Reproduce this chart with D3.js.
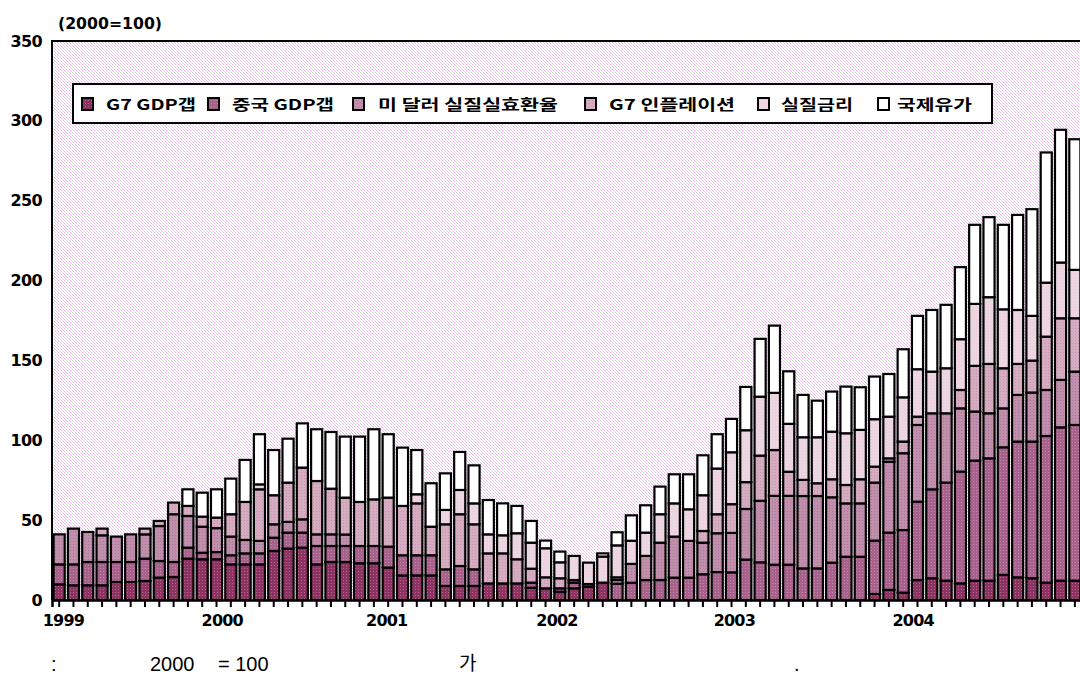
<!DOCTYPE html>
<meta charset="utf-8">
<script src="https://d3js.org/d3.v7.min.js"></script>
<style>
  body { margin: 0; background: #fff; }
</style>
<div id="chart"></div>
<script>
// ---- data (2000 = 100), monthly, Jan 1999 .. Dec 2004 ----
var years = ["1999", "2000", "2001", "2002", "2003", "2004"];
var seriesNames = ["G7 GDP갭", "중국 GDP갭", "미 달러 실질실효환율", "G7 인플레이션", "실질금리", "국제유가"];
var yTicks = [0, 50, 100, 150, 200, 250, 300, 350];

var g7Gap = [9.8, 9.2, 9.2, 9.2, 11.3, 11.3, 11.9, 14, 14.4, 25.9, 25.5, 25.5,
  22.3, 22.3, 22.3, 30.7, 32.2, 32.8, 22.3, 23.8, 23.8, 23, 23, 20.3,
  15.4, 15.4, 15.4, 8.8, 8.8, 8.8, 10.4, 10.4, 10.4, 7.7, 7.3, 5.2,
  7.3, 8.4, 10.9, 0, 0, 0, 0, 0, 0, 0, 0, 0,
  0, 0, 0, 0, 0, 0, 0, 0, 0, 3.8, 6.3, 4.6,
  12.5, 13.6, 12.1, 10.4, 12.1, 12.1, 15.7, 14.2, 13.6, 10.9, 12.1, 12.1];
var chinaGap = [12.5, 13.1, 14.6, 14.6, 12.5, 12.5, 14, 10.4, 9.4, 6.9, 4.1, 4.5,
  5.7, 6.9, 6.9, 8.3, 10, 9.4, 11.5, 10, 10, 10.8, 10.8, 13.1,
  12.6, 12.6, 12.6, 10.4, 12.5, 10.4, 0, 0, 0, 3.2, 0, 2.1,
  3.6, 1.6, 0, 10.2, 10.8, 12.5, 12.5, 14, 14, 16.1, 17.5, 17.3,
  25.3, 23.6, 22.1, 22.1, 19.8, 19.8, 23.4, 27.1, 27.1, 33.4, 35.9, 39.2,
  49.1, 55.7, 61.4, 70, 75.2, 76.6, 79.9, 85, 85.6, 91.8, 96, 97.5];
var usdReer = [18.8, 22.4, 18.8, 16.7, 15.9, 17.3, 15.2, 21.9, 29.9, 19.8, 16.3, 15,
  11.7, 8.4, 7.8, 8.4, 6.7, 8.3, 7.3, 7.3, 7.2, 0, 0, 0,
  0, 0, 0, 0, 0, 0, 0, 0, 0, 0, 0, 0,
  0, 0, 0, 2.3, 11.8, 15.1, 23.4, 25.7, 23, 19.8, 24.3, 24.7,
  31.7, 38.5, 43.1, 43.1, 45.3, 45.3, 40.9, 33.4, 33.4, 36.3, 44.4, 48.1,
  48, 47.6, 43.4, 39.6, 30.7, 28.2, 24.4, 29.2, 30.7, 28.8, 29.7, 33.4];
var g7Infl = [0, 0, 0, 4.2, 0, 0, 3.6, 3.2, 7.3, 6.3, 6.3, 6.6,
  14, 23.8, 32.3, 18.2, 24.6, 32.4, 33.4, 28.6, 23.1, 27.6, 29.2, 30.7,
  30.9, 32.5, 17.9, 28.2, 32.4, 28.2, 18.8, 18.8, 15.1, 8.7, 6.9, 6.3,
  1.6, 0, 0, 1.7, 0, 0, 0, 0, 0, 7.3, 11.9, 18,
  16.8, 28.3, 28.7, 15.1, 10.1, 8, 11.3, 11.5, 15.1, 10, 2.1, 7.3,
  5.2, 0, 0, 11.5, 28.6, 30.9, 25.1, 19.4, 20, 33.4, 38.6, 33.4];
var realRate = [0, 0, 0, 0, 0, 0, 0, 0, 0, 0, 0, 0,
  0, 0, 3.1, 0, 0, 0, 0, 0, 0, 0, 0, 0,
  0, 5.7, 0, 9, 15.2, 13.1, 11.9, 11.3, 16.3, 16.3, 18.2, 10,
  15.1, 13.4, 16.3, 20, 14.5, 14.6, 17.8, 20.8, 19.8, 22.4, 28.6, 32.5,
  32.5, 36.9, 35.8, 30, 26.7, 28.8, 29.8, 32.4, 30.9, 29.7, 26.1, 27.7,
  29.7, 26.1, 28.2, 31.8, 38.8, 41.8, 36.9, 33.8, 28, 33.8, 34.9, 30.3];
var oilPrice = [0, 0, 0, 0, 0, 0, 0, 0, 0, 10.4, 15, 17.7,
  22.3, 26.3, 31.4, 28.3, 27.5, 27.7, 32.4, 35.5, 38.2, 40.9, 43.9, 39.7,
  36.5, 27.7, 27.2, 22.9, 23.8, 23.8, 21.5, 20, 17.1, 13.6, 4.8, 6.7,
  0, 0, 2, 8.2, 15.9, 17.1, 17.3, 18.2, 21.9, 25, 21.5, 20.9,
  27.1, 36.2, 42.1, 32.9, 26.5, 22.9, 25.1, 29.2, 26.7, 26.7, 26.7, 30.1,
  33.4, 38.6, 39.7, 45.1, 49.5, 50.1, 52.9, 59.5, 66.8, 81.5, 83.1, 81.8];

// month index (bar position) under which each year label sits
var yearLabelPos = [0.3, 11.4, 22.9, 34.8, 47.2, 59.7];

var series = [g7Gap, chinaGap, usdReer, g7Infl, realRate, oilPrice];
var baseColors = ["#8a3462", "#a6628a", "#c28fab", "#d6adc0", "#ead7e0", "#ffffff"];
var dotColors  = ["#c45a8e", "#c986ad", "#a774a8", "#c593b5", "#f6c2e6", "#ffffff"];

var rows = d3.range(g7Gap.length).map(function (i) {
  var r = { i: i };
  series.forEach(function (s, k) { r["s" + k] = s[i]; });
  return r;
});
var keys = series.map(function (s, k) { return "s" + k; });

// ---- layout ----
var W = 1080, H = 679;
var plot = { left: 52, top: 41, right: 1082, bottom: 600 };

var svg = d3.select("#chart").append("svg")
  .attr("width", W).attr("height", H)
  .style("font-family", "'DejaVu Sans', sans-serif");

var defs = svg.append("defs");
// dotted pink/grey paper behind the bars
var bg = defs.append("pattern").attr("id", "bgpat")
  .attr("width", 3).attr("height", 3).attr("patternUnits", "userSpaceOnUse");
bg.append("rect").attr("width", 3).attr("height", 3).attr("fill", "#ffffff");
bg.append("rect").attr("x", 0).attr("y", 0).attr("width", 1).attr("height", 1).attr("fill", "#d2d2d2");
bg.append("rect").attr("x", 1).attr("y", 1).attr("width", 1).attr("height", 1).attr("fill", "#f3b2f0");
bg.append("rect").attr("x", 2).attr("y", 2).attr("width", 1).attr("height", 1).attr("fill", "#f8cff6");

baseColors.forEach(function (c, k) {
  var p = defs.append("pattern").attr("id", "pat" + k)
    .attr("width", 3).attr("height", 3).attr("patternUnits", "userSpaceOnUse");
  p.append("rect").attr("width", 3).attr("height", 3).attr("fill", c);
  if (k < 5) {
    p.append("rect").attr("x", 1).attr("y", 1).attr("width", 1).attr("height", 1).attr("fill", dotColors[k]);
  }
});

var x = d3.scaleBand()
  .domain(d3.range(rows.length))
  .range([plot.left, plot.right])
  .padding(0);

var xm = d3.scaleLinear()
  .domain([0, rows.length])
  .range([plot.left, plot.right]);

var y = d3.scaleLinear()
  .domain([0, 350])
  .range([plot.bottom, plot.top]);

// plot background
svg.append("rect")
  .attr("x", plot.left).attr("y", plot.top)
  .attr("width", plot.right - plot.left).attr("height", plot.bottom - plot.top)
  .attr("fill", "url(#bgpat)");

// stacked bars
var stacked = d3.stack().keys(keys)(rows);

var layer = svg.append("g").selectAll("g")
  .data(stacked)
  .enter().append("g")
  .attr("fill", function (d, k) { return "url(#pat" + k + ")"; });

layer.selectAll("rect")
  .data(function (d) { return d.filter(function (v) { return v[1] - v[0] > 0.01; }); })
  .enter().append("rect")
  .attr("x", function (d) { return x(d.data.i) + 1.6; })
  .attr("width", x.bandwidth() - 3.2)
  .attr("y", function (d) { return y(d[1]); })
  .attr("height", function (d) { return y(d[0]) - y(d[1]); })
  .attr("stroke", "#000")
  .attr("stroke-width", 2.2);

// frame (left + top)
svg.append("path")
  .attr("d", "M" + plot.left + "," + plot.bottom + "V" + plot.top + "H" + (plot.right + 10))
  .attr("fill", "none").attr("stroke", "#000").attr("stroke-width", 2);

// x axis: month ticks
var xAxis = svg.append("g")
  .attr("transform", "translate(0," + plot.bottom + ")")
  .call(d3.axisBottom(x).tickSize(7).tickFormat(""));
xAxis.select(".domain").attr("stroke-width", 2.5);
xAxis.selectAll(".tick line").attr("stroke-width", 2);

// year labels
svg.append("g").selectAll("text")
  .data(years)
  .enter().append("text")
  .attr("x", function (d, i) { return xm(yearLabelPos[i] + 0.5); })
  .attr("y", 626)
  .attr("text-anchor", "middle")
  .attr("fill", "#000")
  .style("font-size", "16px").style("font-weight", "bold")
  .attr("letter-spacing", "-0.8")
  .text(function (d) { return d; });

// y axis
var yAxis = svg.append("g")
  .attr("transform", "translate(" + plot.left + ",0)")
  .call(d3.axisLeft(y).tickValues(yTicks).tickSize(0).tickPadding(10));
yAxis.select(".domain").remove();
yAxis.selectAll("text")
  .attr("fill", "#000")
  .style("font-family", "'DejaVu Sans', sans-serif")
  .style("font-size", "16px").style("font-weight", "bold")
  .attr("letter-spacing", "-0.6");

// unit label
svg.append("text")
  .attr("x", 58).attr("y", 29)
  .attr("fill", "#000")
  .style("font-size", "15px").style("font-weight", "bold")
  .attr("textLength", 104).attr("lengthAdjust", "spacingAndGlyphs")
  .text("(2000=100)");

// legend
var legend = svg.append("g");
legend.append("rect")
  .attr("x", 73).attr("y", 84).attr("width", 919).attr("height", 39)
  .attr("fill", "#fff").attr("stroke", "#000").attr("stroke-width", 2);

var swX = [82, 208, 353, 585, 758, 878];
var txX = [106, 232, 378, 609, 781, 897];
var txW = [90, 102, 180, 126, 72, 75];

var items = legend.selectAll("g.item")
  .data(seriesNames)
  .enter().append("g").attr("class", "item");
items.append("rect")
  .attr("x", function (d, i) { return swX[i]; })
  .attr("y", 98).attr("width", 11).attr("height", 12)
  .attr("fill", function (d, i) { return "url(#pat" + i + ")"; })
  .attr("stroke", "#000").attr("stroke-width", 2);
items.append("text")
  .attr("x", function (d, i) { return txX[i]; })
  .attr("y", 110)
  .attr("fill", "#000")
  .style("font-family", "'Noto Sans CJK KR', 'DejaVu Sans', sans-serif")
  .style("font-size", "15px").style("font-weight", "bold")
  .attr("textLength", function (d, i) { return txW[i]; })
  .attr("lengthAdjust", "spacingAndGlyphs")
  .text(function (d) { return d; });

// footnote (only the glyphs that survived in the source)
var note = svg.append("g")
  .attr("fill", "#000")
  .style("font-family", "'Liberation Sans', Arial, sans-serif")
  .style("font-size", "20px");
note.append("text").attr("x", 51).attr("y", 671).text(":");
note.append("text").attr("x", 150).attr("y", 671).text("2000");
note.append("text").attr("x", 218).attr("y", 671).text("= 100");
note.append("text").attr("x", 459).attr("y", 670)
  .style("font-family", "'Noto Sans CJK KR', sans-serif")
  .style("font-size", "19px").text("가");
note.append("text").attr("x", 794).attr("y", 671).text(".");
</script>
